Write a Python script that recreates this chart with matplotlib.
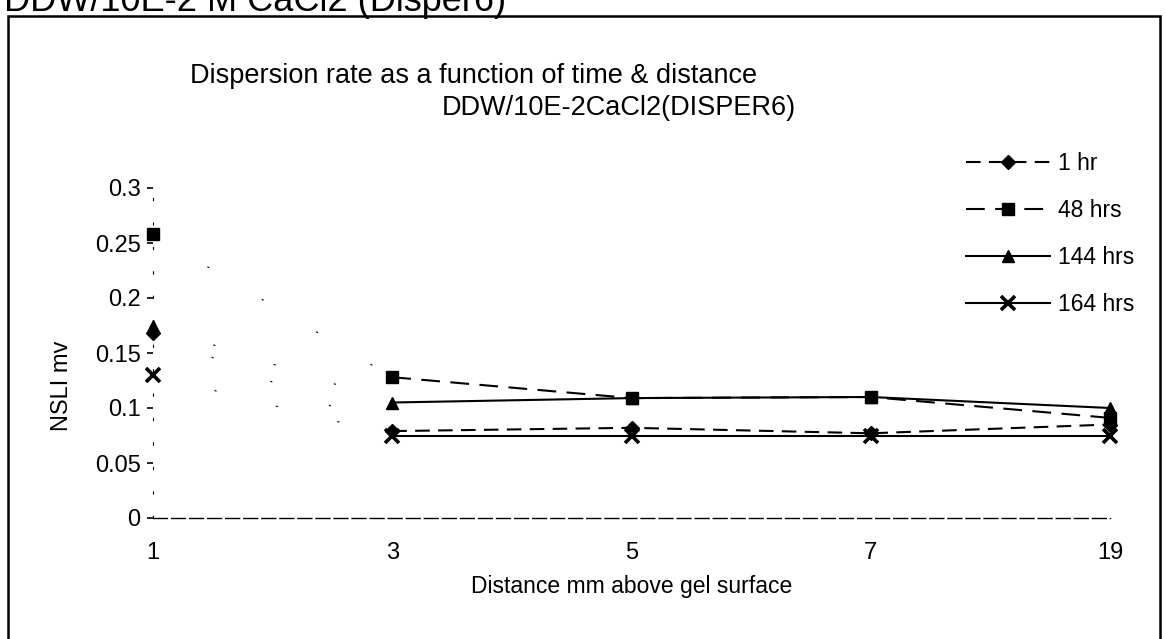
import matplotlib
matplotlib.use("Agg")
import matplotlib.pyplot as plt
from matplotlib.patches import Rectangle

plt.rcParams['font.family'] = ['Liberation Sans', 'DejaVu Sans']

# Category axis: distance above the gel surface (mm)
distances = ["1", "3", "5", "7", "19"]

# NSLI readings (mV) for each exposure time
series_labels = ["1 hr", "48 hrs", "144 hrs", "164 hrs"]
nsli_1hr = [0.168, 0.079, 0.082, 0.077, 0.085]
nsli_48hrs = [0.258, 0.128, 0.109, 0.110, 0.091]
nsli_144hrs = [0.175, 0.105, 0.109, 0.110, 0.100]
nsli_164hrs = [0.130, 0.075, 0.075, 0.075, 0.075]

y_ticks = [0, 0.05, 0.1, 0.15, 0.2, 0.25, 0.3]
y_tick_labels = ["0", "0.05", "0.1", "0.15", "0.2", "0.25", "0.3"]

W, H = 1166, 639
fig = plt.figure(figsize=(W / 100, H / 100), dpi=100)

# outer chart frame and clipped sheet heading
fig.patches.append(Rectangle((8 / W, -0.1), (1160 - 8) / W, 1 + 0.1 - 16 / H,
                             transform=fig.transFigure, fill=False,
                             edgecolor="black", linewidth=1.8))
fig.text(4 / W, 1 - 11 / H, "DDW/10E-2 M CaCl2 (Disper6)", fontsize=26,
         ha="left", va="baseline")

ax = fig.add_axes([153 / W, 1 - 518 / H, (1110 - 153) / W, 330 / H])
x = list(range(len(distances)))

styles = [
    dict(data=nsli_1hr, marker="D", ms=7, ls=(0, (7, 4))),
    dict(data=nsli_48hrs, marker="s", ms=8, ls=(0, (9, 5))),
    dict(data=nsli_144hrs, marker="^", ms=8, ls="-"),
    dict(data=nsli_164hrs, marker="x", ms=10, ls="-"),
]

handles = []
for lab, st in zip(series_labels, styles):
    d = st["data"]
    mew = 2.6 if st["marker"] == "x" else 1
    # first segment is faint and broken
    ax.plot(x[:2], d[:2], color="black", lw=0.8, ls=(0, (2, 55)))
    ax.plot(x[1:], d[1:], color="black", lw=1.5, ls=st["ls"])
    ax.plot(x, d, ls="none", marker=st["marker"], ms=st["ms"], color="black",
            mew=mew, clip_on=False, zorder=4)
    h, = ax.plot([], [], color="black", lw=1.5, ls=st["ls"], marker=st["marker"],
                 ms=st["ms"], mew=mew, label=lab)
    handles.append(h)

ax.set_xlim(0, len(distances) - 1)
ax.set_ylim(0, 0.3)
ax.set_xticks(x)
ax.set_xticklabels(distances, fontsize=17)
ax.set_yticks(y_ticks)
ax.set_yticklabels(y_tick_labels, fontsize=17)
ax.tick_params(axis="x", length=0, pad=17)
ax.tick_params(axis="y", length=4, width=1.2, direction="out", pad=5)

for side in ["top", "right"]:
    ax.spines[side].set_visible(False)
ax.spines["left"].set_linestyle((0, (2, 20)))
ax.spines["left"].set_linewidth(0.8)
ax.spines["bottom"].set_linewidth(1.0)
ax.spines["bottom"].set_linestyle((0, (10, 3)))
ax.patch.set_alpha(0)

ax.set_ylabel("NSLI mv", fontsize=17)
ax.yaxis.set_label_coords(-80 / (1110 - 153), 0.40)
ax.set_xlabel("Distance mm above gel surface", fontsize=16.5, labelpad=8)

fig.text(190 / W, 1 - 76 / H, "Dispersion rate as a function of time & distance",
         fontsize=19.5, ha="left", va="center")
fig.text(442 / W, 1 - 108 / H, "DDW/10E-2CaCl2(DISPER6)",
         fontsize=19.5, ha="left", va="center")

leg = ax.legend(handles=handles, loc="upper left",
                bbox_to_anchor=(945 / W, 1 - 131 / H),
                bbox_transform=fig.transFigure, frameon=False, fontsize=16.5,
                handlelength=3.7, labelspacing=1.05, handletextpad=0.35)

fig.savefig("out.png", dpi=100)
